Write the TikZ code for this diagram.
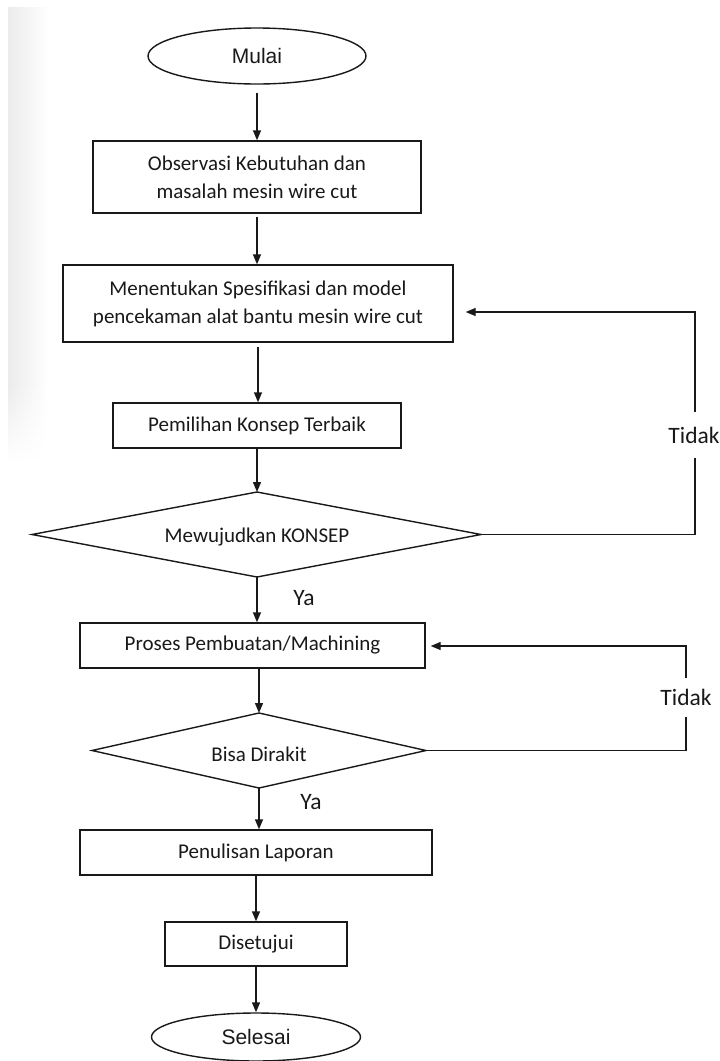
\documentclass[tikz,border=0pt]{standalone}
\usepackage{fontspec}
\setmainfont{Carlito}
\newfontfamily\arialf{Liberation Sans}
\usetikzlibrary{shapes.geometric,arrows.meta,fadings}
\begin{document}
\begin{tikzpicture}[x=1pt,y=-1pt,
  line/.style={draw=black!90, line width=1.4pt},
  arr/.style={line, -{Triangle[length=10pt,width=8pt]}},
  box/.style={rectangle, line, inner sep=0pt, align=center, text=black!90, font=\fontsize{21}{28}\selectfont},
  term/.style={ellipse, line, inner sep=0pt, text=black!90, font=\arialf\fontsize{21}{26}\selectfont},
  dtext/.style={inner sep=0pt, text=black!90, font=\fontsize{21}{26}\selectfont},
  lbl/.style={inner sep=0pt, text=black!90, font=\fontsize{23.5}{28}\selectfont}]
\useasboundingbox (0,0) rectangle (720,1061);
\fill[black!8, path fading=east] (8,7) rectangle (48,380);
\foreach \i in {0,...,9} {
  \fill[black!8, path fading=east, opacity={1-\i/10}] (8,{380+8*\i}) rectangle (48,{388+8*\i});
}

\node[term, minimum width=218pt, minimum height=56pt] (start) at (257,56) {Mulai};
\node[box, minimum width=328pt, minimum height=72pt] (b1) at (257,177) {Observasi Kebutuhan dan\\masalah mesin wire cut};
\node[box, minimum width=390pt, minimum height=77pt] (b2) at (258,303.5) {Menentukan Spesifikasi dan model\\pencekaman alat bantu mesin wire cut};
\node[box, minimum width=288pt, minimum height=45pt] (b3) at (257,425.5) {Pemilihan Konsep Terbaik};

\node[dtext] (d1) at (257,537) {Mewujudkan KONSEP};
\coordinate (d1n) at (257,492);
\coordinate (d1s) at (257,577);
\coordinate (d1w) at (32,534.5);
\coordinate (d1e) at (481,534.5);
\draw[line] (d1n) -- (d1e) -- (d1s) -- (d1w) -- cycle;

\node[box, minimum width=345pt, minimum height=45pt] (b4) at (252.5,645.5) {Proses Pembuatan/Machining};

\node[dtext] (d2) at (259,754) {Bisa Dirakit};
\coordinate (d2n) at (259,713);
\coordinate (d2s) at (259,788);
\coordinate (d2w) at (92,750.5);
\coordinate (d2e) at (426,750.5);
\draw[line] (d2n) -- (d2e) -- (d2s) -- (d2w) -- cycle;

\node[box, minimum width=352pt, minimum height=45pt] (b5) at (256,852.5) {Penulisan Laporan};
\node[box, minimum width=182pt, minimum height=44pt] (b6) at (256,944) {Disetujui};
\node[term, minimum width=209pt, minimum height=48pt] (end) at (256,1037) {Selesai};

\draw[arr, shorten <=8pt] (start.south) -- (start.south |- b1.north);
\draw[arr, shorten <=3pt] (b1.south) -- (b1.south |- b2.north);
\draw[arr, shorten <=4pt] (b2.south) -- (b2.south |- b3.north);
\draw[arr] (b3.south) -- (b3.south |- d1n);
\draw[arr] (d1s) -- (d1s |- b4.north);
\draw[arr] (d2n |- b4.south) -- (d2n);
\draw[arr] (d2s) -- (d2s |- b5.north);
\draw[arr] (b5.south) -- (b5.south |- b6.north);
\draw[arr] (b6.south) -- (b6.south |- end.north);

\node[lbl] (y1) at (304,598) {Ya};
\node[lbl] (y2) at (311,802) {Ya};

\coordinate (c1) at (695,534.5);
\coordinate (c2) at (695,312);
\node[lbl, minimum height=46pt] (t1) at (694,435) {Tidak};
\draw[line] (d1e) -- (c1) -- (c1 |- t1.south);
\draw[arr] (c2 |- t1.north) -- (c2) -- ([xshift=12pt]b2.east |- c2);

\coordinate (c3) at (686,750.5);
\coordinate (c4) at (686,646);
\node[lbl, minimum height=39pt] (t2) at (686,697.5) {Tidak};
\draw[line] (d2e) -- (c3) -- (c3 |- t2.south);
\draw[arr] (c4 |- t2.north) -- (c4) -- ([xshift=5pt]b4.east |- c4);
\end{tikzpicture}
\end{document}
